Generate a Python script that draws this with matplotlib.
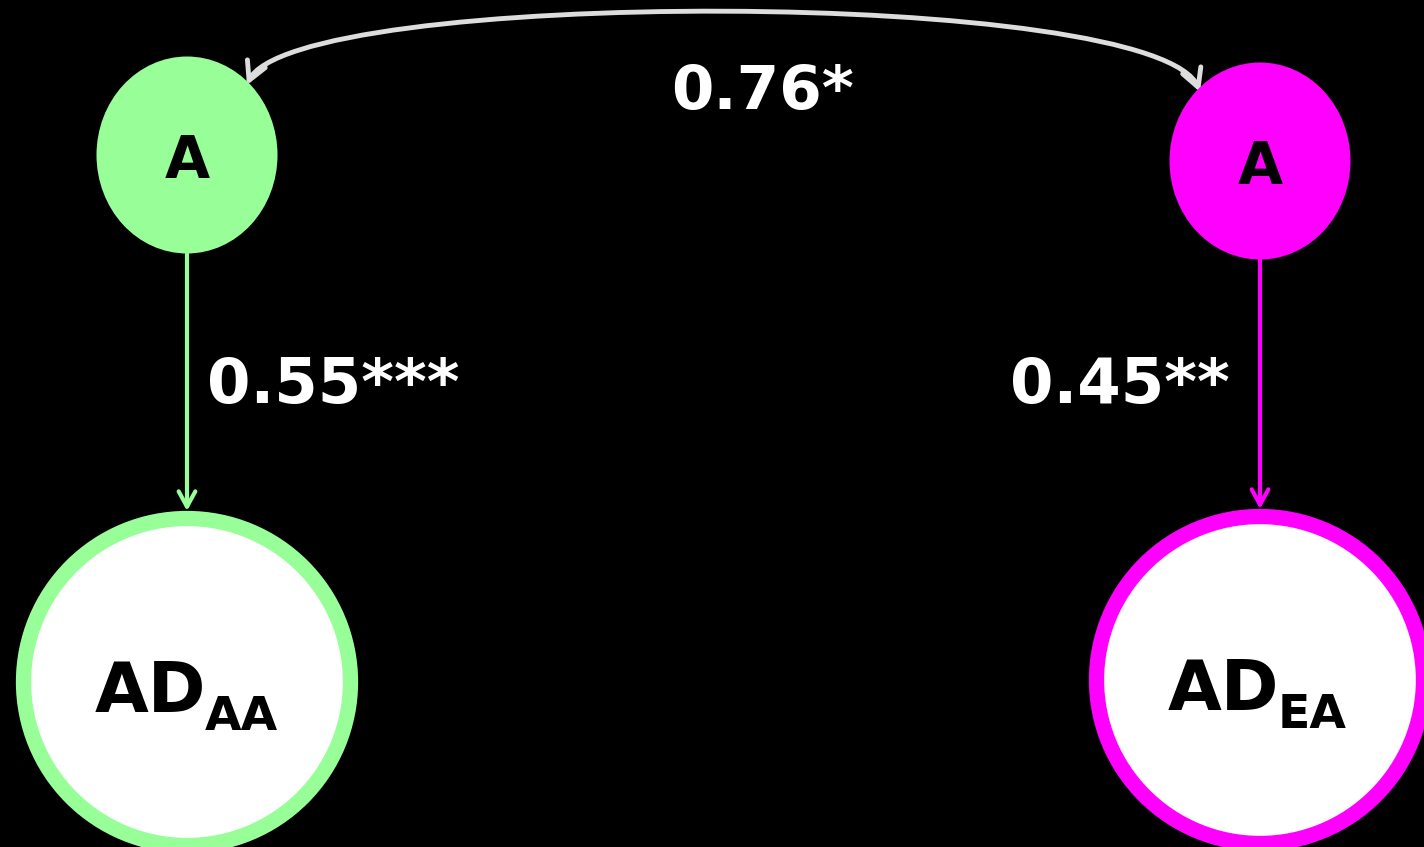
import matplotlib
matplotlib.use('Agg')
import matplotlib.pyplot as plt
from matplotlib.patches import Ellipse, Circle, FancyArrowPatch
from matplotlib.path import Path

# path model: latent A factors loading onto AD in two groups
groups = ['AA', 'EA']
group_colors = ['#98ff98', '#ff00ff']
loadings = [0.55, 0.45]
loading_stars = ['***', '**']
correlation = 0.76
correlation_stars = '*'

W, H = 1424, 847
fig = plt.figure(figsize=(W / 100, H / 100), dpi=100, facecolor='black')
ax = fig.add_axes([0, 0, 1, 1])
ax.set_facecolor('black')
ax.set_xlim(0, W)
ax.set_ylim(H, 0)
ax.axis('off')

latent_xy = [(187, 155), (1260, 161)]
observed_xy = [(187, 682), (1260, 680)]
label_xy = [(207, 386), (1230, 386)]
label_ha = ['left', 'right']

for i, grp in enumerate(groups):
    col = group_colors[i]
    lx, ly = latent_xy[i]
    ox, oy = observed_xy[i]
    ax.add_patch(Ellipse((lx, ly), 181, 197, facecolor=col, edgecolor='none', zorder=2))
    ax.text(lx, ly + 6, 'A', ha='center', va='center', fontsize=42,
            fontweight='bold', color='black', zorder=3)
    ax.add_patch(Circle((ox, oy), 163.5, facecolor='white', edgecolor=col,
                        linewidth=11, zorder=2))
    ax.text(ox + 19, oy + 30, 'AD', ha='right', va='baseline', fontsize=50,
            fontweight='bold', color='black', zorder=3)
    ax.text(ox + 18, oy + 48, grp, ha='left', va='baseline', fontsize=34,
            fontweight='bold', color='black', zorder=3)
    arr = FancyArrowPatch((lx, ly + 98), (ox, oy - 171), arrowstyle='->,head_length=11,head_width=6',
                          color=col, linewidth=3, shrinkA=0, shrinkB=0, zorder=1)
    ax.add_patch(arr)
    ax.text(label_xy[i][0], label_xy[i][1], f'{loadings[i]:.2f}{loading_stars[i]}',
            ha=label_ha[i], va='center', fontsize=45, fontweight='bold', color='white')

# covariance between the two latent factors
verts = [(247, 85), (290, -13), (1160, -13), (1200, 92)]
codes = [Path.MOVETO, Path.CURVE4, Path.CURVE4, Path.CURVE4]
cov = FancyArrowPatch(path=Path(verts, codes), arrowstyle='<->,head_length=13,head_width=7',
                      color='#dddddd', linewidth=3.5, zorder=1)
ax.add_patch(cov)
ax.text(763, 92, f'{correlation:.2f}{correlation_stars}', ha='center', va='center',
        fontsize=44, fontweight='bold', color='white')

fig.savefig('out.png', dpi=100, facecolor='black')
